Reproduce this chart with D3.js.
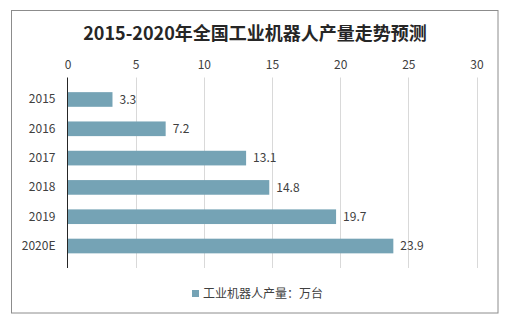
<!DOCTYPE html>
<html><head><meta charset="utf-8">
<script src="https://cdn.jsdelivr.net/npm/d3@7"></script>
<style>body{margin:0;background:#fff}svg{display:block}</style>
</head><body>
<script>
const categories = ["2015","2016","2017","2018","2019","2020E"];
const values = [3.3, 7.2, 13.1, 14.8, 19.7, 23.9];
const xTicks = [0,5,10,15,20,25,30];
const seriesName = "工业机器人产量：万台";
const title = "2015-2020年全国工业机器人产量走势预测";

const W=515,H=331;
const svg=d3.select("body").append("svg").attr("width",W).attr("height",H);
const font="'Microsoft YaHei','Noto Sans CJK SC','Noto Sans',sans-serif";
svg.append("rect").attr("x",11.5).attr("y",10.5).attr("width",486.5).attr("height",302.5)
  .attr("fill","#fff").attr("stroke","#8c8c8c").attr("stroke-width",1);

svg.append("text").attr("x",255).attr("y",40).attr("text-anchor","middle")
  .attr("font-family",font).attr("font-size",18).attr("font-weight","bold").attr("fill","#262626").text(title);

const x=d3.scaleLinear().domain([0,30]).range([67.5,476.5]);
const y=d3.scaleBand().domain(categories).range([77.5,268]).padding(0.5);

// gridlines
svg.append("g").selectAll("line").data(xTicks.filter(d=>d>0)).join("line")
  .attr("x1",d=>Math.round(x(d))+0.5).attr("x2",d=>Math.round(x(d))+0.5)
  .attr("y1",77.5).attr("y2",268).attr("stroke","#d9d9d9");

// top axis labels
const ax=svg.append("g").attr("transform","translate(0,69)")
  .call(d3.axisTop(x).tickValues(xTicks).tickSize(0).tickPadding(0));
ax.select(".domain").remove();
ax.selectAll("text").attr("font-family",font).attr("font-size",12).attr("fill","#404040");

// bars
svg.append("g").selectAll("rect").data(values).join("rect")
  .attr("x",x(0)).attr("y",(d,i)=>y(categories[i]))
  .attr("width",d=>x(d)-x(0)).attr("height",y.bandwidth())
  .attr("fill","#75a3b5");

// value labels
svg.append("g").selectAll("text").data(values).join("text")
  .attr("x",d=>x(d)+7).attr("y",(d,i)=>y(categories[i])+y.bandwidth()/2)
  .attr("dy","0.35em").attr("font-family",font).attr("font-size",12).attr("fill","#404040")
  .text(d=>d.toFixed(1));

// y axis
const ay=svg.append("g").attr("transform","translate(67.5,0)")
  .call(d3.axisLeft(y).tickSize(0).tickPadding(12));
ay.select(".domain").attr("stroke","#262626").attr("d","M0,77.5V268");
ay.selectAll("text").attr("font-family",font).attr("font-size",12).attr("fill","#404040");

// legend
svg.append("rect").attr("x",192).attr("y",290).attr("width",7).attr("height",7).attr("fill","#75a3b5");
svg.append("text").attr("x",203).attr("y",294).attr("dy","0.35em").attr("font-family",font)
  .attr("font-size",12).attr("fill","#404040").text(seriesName);
</script>
</body></html>
